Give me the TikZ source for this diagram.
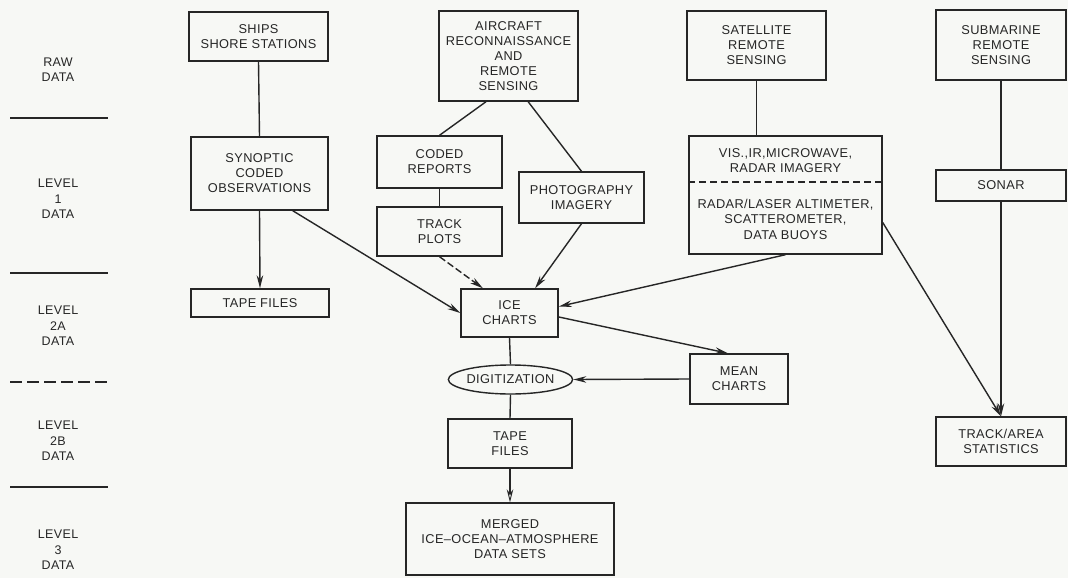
\documentclass[tikz,border=0pt]{standalone}
\usepackage{fontspec}
\setmainfont{Liberation Sans}[LetterSpace=3]
\usetikzlibrary{arrows.meta,shapes.geometric,calc}
\definecolor{ink}{RGB}{38,38,38}
\definecolor{paper}{RGB}{247,248,245}
\tikzset{
  box/.style={draw=ink, line width=1.4pt, rectangle, inner sep=0pt, align=center, text=ink,
    font=\fontsize{12.8}{15}\selectfont},
  lvl/.style={align=center, text=ink, inner sep=0pt, font=\fontsize{12.5}{15.5}\selectfont},
  conn/.style={draw=ink, line width=1.4pt},
  arr/.style={conn, -{Stealth[length=13pt,width=6.5pt]}},
  oarr/.style={conn, -{Stealth[open,length=13pt,width=6.5pt,line width=0.9pt]}},
  sep/.style={draw=ink, line width=1.4pt}
}
\begin{document}
\begin{tikzpicture}[x=1pt,y=-1pt]
\fill[paper] (0,0) rectangle (1068,578);
\useasboundingbox (0,0) rectangle (1068,578);

% level labels
\node[lvl] (lraw) at (58,69.5) {RAW\\DATA};
\node[lvl] (l1) at (58,199) {LEVEL\\1\\DATA};
\node[lvl] (l2a) at (58,326) {LEVEL\\2A\\DATA};
\node[lvl] (l2b) at (58,441) {LEVEL\\2B\\DATA};
\node[lvl] (l3) at (58,550) {LEVEL\\3\\DATA};
\coordinate (s1a) at (10,118); \coordinate (s1b) at (108,118);
\coordinate (s2a) at (10,273); \coordinate (s2b) at (108,273);
\coordinate (s3a) at (10,382); \coordinate (s3b) at (108,382);
\coordinate (s4a) at (10,487); \coordinate (s4b) at (108,487);
\draw[sep] (s1a) -- (s1b);
\draw[sep] (s2a) -- (s2b);
\draw[sep, dash pattern=on 12pt off 5pt] (s3a) -- (s3b);
\draw[sep] (s4a) -- (s4b);

% column 1
\node[box, minimum width=139pt, minimum height=49pt] (ships) at (258.5,36.5) {SHIPS\\SHORE STATIONS};
\node[box, minimum width=137pt, minimum height=73pt] (syn) at (259.5,173.5) {SYNOPTIC\\CODED\\OBSERVATIONS};
\node[box, minimum width=138pt, minimum height=28pt] (tape1) at (260,303) {TAPE FILES};

% column 2
\node[box, minimum width=139pt, minimum height=90pt] (air) at (508.5,56) {AIRCRAFT\\RECONNAISSANCE\\AND\\REMOTE\\SENSING};
\node[box, minimum width=125pt, minimum height=52pt] (coded) at (439.5,162) {CODED\\REPORTS};
\node[box, minimum width=125pt, minimum height=49pt] (track) at (439.5,231.5) {TRACK\\PLOTS};
\node[box, minimum width=125pt, minimum height=51pt] (photo) at (581.5,197.5) {PHOTOGRAPHY\\IMAGERY};
\node[box, minimum width=97pt, minimum height=48pt] (ice) at (509.5,313) {ICE\\CHARTS};
\node[box, ellipse, minimum width=123pt, minimum height=29pt] (digit) at (510.5,379.5) {DIGITIZATION};
\node[box, minimum width=124pt, minimum height=49pt] (tape2) at (510,443.5) {TAPE\\FILES};
\node[box, minimum width=208pt, minimum height=72pt] (merged) at (510,539) {MERGED\\ICE--OCEAN--ATMOSPHERE\\DATA SETS};
\node[box, minimum width=98pt, minimum height=50pt] (mean) at (739,379) {MEAN\\CHARTS};

% column 3
\node[box, minimum width=139pt, minimum height=69pt] (sat) at (756.5,45.5) {SATELLITE\\REMOTE\\SENSING};
\node[box, minimum width=193pt, minimum height=118pt] (vis) at (785.5,195) {};
\node[text=ink, align=center, inner sep=0pt, font=\fontsize{12.8}{15}\selectfont] (vistop) at (785.5,160.5) {VIS.,IR,MICROWAVE,\\RADAR IMAGERY};
\node[text=ink, align=center, inner sep=0pt, font=\fontsize{12.8}{15.5}\selectfont] (visbot) at (785.5,219) {RADAR/LASER ALTIMETER,\\SCATTEROMETER,\\DATA BUOYS};
\draw[conn, dash pattern=on 7pt off 4pt] ($(vis.north west)!0.39!(vis.south west)$) -- ($(vis.north east)!0.39!(vis.south east)$);

% column 4
\node[box, minimum width=130pt, minimum height=70pt] (sub) at (1001,45) {SUBMARINE\\REMOTE\\SENSING};
\node[box, minimum width=130pt, minimum height=31pt] (sonar) at (1001,185.5) {SONAR};
\node[box, minimum width=130pt, minimum height=49pt] (tstat) at (1001,441.5) {TRACK/AREA\\STATISTICS};

% connectors
\draw[conn] (ships.south) -- (syn.north);
\draw[arr] (syn.south) -- (tape1.north);
\draw[arr] ($(syn.south west)!0.74!(syn.south east)$) -- (ice.west);
\draw[conn] ($(air.south west)!0.34!(air.south east)$) -- (coded.north);
\draw[conn] ($(air.south west)!0.64!(air.south east)$) -- (photo.north);
\draw[conn] (coded.south) -- (track.north);
\draw[arr, dash pattern=on 7pt off 3pt] (track.south) -- ($(ice.north west)!0.23!(ice.north east)$);
\draw[arr] (photo.south) -- ($(ice.north west)!0.76!(ice.north east)$);
\draw[conn] (sat.south) -- (sat.south |- vis.north);
\draw[arr] (vis.south) -- ($(ice.north east)!0.37!(ice.south east)$);
\draw[arr] ($(vis.north east)!0.73!(vis.south east)$) -- (tstat.north);
\draw[conn] (sub.south) -- (sonar.north);
\draw[arr] (sonar.south) -- (tstat.north);
\draw[arr] ($(ice.north east)!0.58!(ice.south east)$) -- ($(mean.north west)!0.39!(mean.north east)$);
\draw[arr] (mean.west) -- (digit.east);
\draw[conn] (ice.south) -- (digit.north);
\draw[conn] (digit.south) -- (tape2.north);
\draw[oarr] (tape2.south) -- (merged.north);
\end{tikzpicture}
\end{document}
